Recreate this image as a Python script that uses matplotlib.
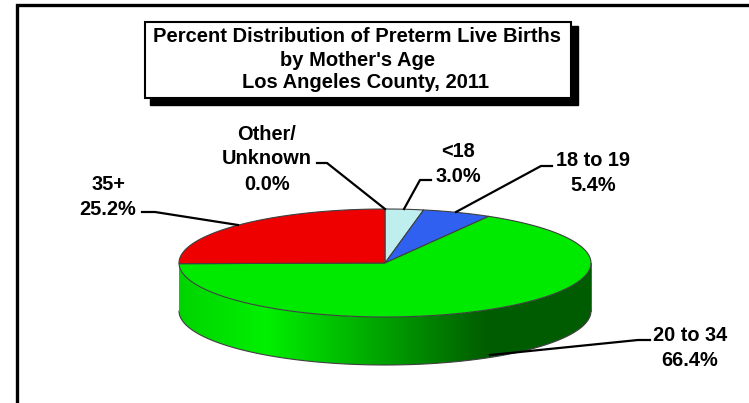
import numpy as np
import matplotlib
matplotlib.use('Agg')
import matplotlib.pyplot as plt
from matplotlib.colors import LinearSegmentedColormap
from matplotlib.patches import Polygon, Rectangle

plt.rcParams['font.family'] = ['Liberation Sans', 'DejaVu Sans']

groups = ['<18', '18 to 19', '20 to 34', '35+', 'Other/\nUnknown']
percents = [3.0, 5.4, 66.4, 25.2, 0.0]
colors = ['#BFEEEE', '#3060F0', '#00EA00', '#EE0000', '#FFFFFF']
title_lines = ['Percent Distribution of Preterm Live Births', "by Mother's Age", 'Los Angeles County, 2011']

# pie geometry, in pixels of the 749x403 picture
cx, cy = 385, 263
rx, ry = 206, 54
depth = 48
edge = '#404040'

fig = plt.figure(figsize=(7.49, 4.03), dpi=100)
ax = fig.add_axes([0, 0, 1, 1])
ax.set_xlim(0, 749)
ax.set_ylim(403, 0)
ax.axis('off')


def rim(a0, a1, n=120):
    # angles clockwise from 12 o'clock, in degrees
    t = np.radians(np.linspace(a0, a1, n))
    return np.column_stack([cx + rx * np.sin(t), cy - ry * np.cos(t)])


# outer frame, open at right and bottom
ax.plot([17, 17, 749], [403, 5, 5], color='k', lw=2.4, solid_joinstyle='miter')

# side wall with the horizontal shading
wall = np.vstack([rim(90, 270), rim(270, 90) + [0, depth]])
wall_patch = Polygon(wall, closed=True, fc='none', ec='none')
ax.add_patch(wall_patch)
shade = LinearSegmentedColormap.from_list('shade', [(0, '#00D400'), (0.21, '#00F000'),
                                                    (0.75, '#005C00'), (1, '#005C00')])
grad = np.linspace(0, 1, 256).reshape(1, -1)
im = ax.imshow(grad, cmap=shade, extent=[cx - rx, cx + rx, cy + ry + depth, cy - ry], aspect='auto', zorder=1)
im.set_clip_path(wall_patch)
ax.set_xlim(0, 749)
ax.set_ylim(403, 0)
ax.plot(*rim(90, 270).T + np.array([[0], [depth]]), color=edge, lw=0.8, zorder=2)
ax.plot([cx - rx, cx - rx], [cy, cy + depth], color='#808080', lw=0.6, zorder=2)
ax.plot([cx + rx, cx + rx], [cy, cy + depth], color='#404040', lw=0.6, zorder=2)

# top face
start = 0
for p, c in zip(percents, colors):
    end = start + p * 3.6
    if p > 0:
        pts = np.vstack([[cx, cy], rim(start, end)])
        ax.add_patch(Polygon(pts, closed=True, fc=c, ec=edge, lw=0.8, zorder=3))
    start = end

# leader lines
leaders = [
    ([431, 420, 404], [180, 180, 209]),
    ([552, 541, 456], [166, 166, 212]),
    ([650, 638, 490], [340, 340, 355]),
    ([142, 155, 238], [212, 212, 225]),
    ([317, 327, 385], [163, 163, 209]),
]
for xs, ys in leaders:
    ax.plot(xs, ys, color='k', lw=1.6, zorder=4)

# labels
label_pos = [(458, 164), (593, 173), (690, 348), (108, 197), (267, 159)]
for name, p, (x, y) in zip(groups, percents, label_pos):
    ax.text(x, y, f'{name}\n{p:.1f}%', ha='center', va='center', fontsize=14.4, fontweight='bold',
            linespacing=1.4, zorder=5)

# title box
ax.add_patch(Rectangle((150, 26), 428, 79, fc='k', ec='k', zorder=5))
ax.add_patch(Rectangle((144.5, 21.5), 426, 76, fc='w', ec='k', lw=1.5, zorder=6))
for line, x, y in zip(title_lines, [357, 358, 365], [37, 60, 83]):
    ax.text(x, y, line, ha='center', va='center', fontsize=14.5, fontweight='bold', zorder=7)

fig.savefig('out.png', dpi=100)
